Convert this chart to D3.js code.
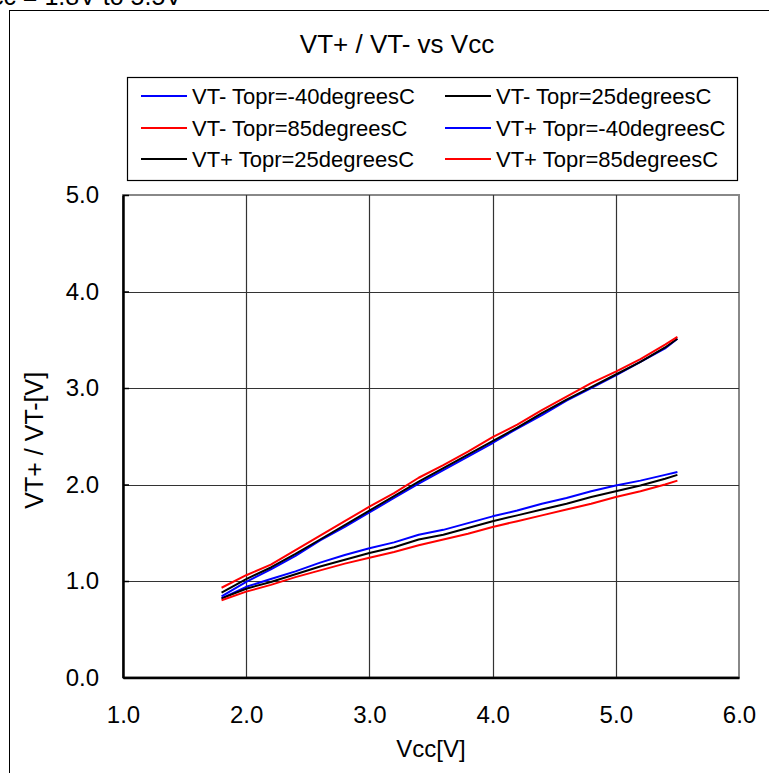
<!DOCTYPE html>
<html>
<head>
<meta charset="utf-8">
<script src="https://cdn.jsdelivr.net/npm/d3@7"></script>
<style>
  html, body { margin: 0; padding: 0; background: #fff; }
  svg { display: block; }
  text { font-family: "Liberation Sans", Arial, sans-serif; fill: #000; }
</style>
</head>
<body>
<svg id="chart" width="769" height="773"></svg>
<script>
// Supply voltage sweep [V]
const vcc = [1.8, 2.0, 2.2, 2.4, 2.6, 2.8, 3.0, 3.2, 3.4, 3.6, 3.8, 4.0, 4.2, 4.4, 4.6, 4.8, 5.0, 5.2, 5.4, 5.5];

// Threshold voltages [V]
const vtMinusM40 = [0.82, 0.94, 1.02, 1.10, 1.19, 1.27, 1.34, 1.40, 1.48, 1.53, 1.60, 1.67, 1.73, 1.80, 1.86, 1.93, 1.99, 2.04, 2.10, 2.13];
const vtMinus25  = [0.82, 0.92, 0.99, 1.07, 1.15, 1.22, 1.29, 1.35, 1.43, 1.48, 1.55, 1.62, 1.68, 1.74, 1.80, 1.87, 1.93, 1.99, 2.06, 2.10];
const vtMinus85  = [0.80, 0.89, 0.96, 1.04, 1.11, 1.18, 1.24, 1.30, 1.37, 1.43, 1.49, 1.56, 1.62, 1.68, 1.74, 1.80, 1.87, 1.93, 2.00, 2.04];
const vtPlusM40  = [0.84, 0.99, 1.12, 1.26, 1.42, 1.56, 1.71, 1.86, 2.01, 2.15, 2.29, 2.43, 2.58, 2.72, 2.87, 3.00, 3.13, 3.27, 3.41, 3.51];
const vtPlus25   = [0.88, 1.02, 1.14, 1.28, 1.43, 1.58, 1.73, 1.88, 2.03, 2.17, 2.31, 2.45, 2.59, 2.74, 2.88, 3.01, 3.14, 3.27, 3.42, 3.51];
const vtPlus85   = [0.93, 1.06, 1.17, 1.32, 1.47, 1.62, 1.77, 1.91, 2.07, 2.20, 2.34, 2.49, 2.62, 2.77, 2.91, 3.05, 3.17, 3.30, 3.45, 3.53];

const seriesNames  = ["VT- Topr=-40degreesC", "VT- Topr=25degreesC", "VT- Topr=85degreesC",
                      "VT+ Topr=-40degreesC", "VT+ Topr=25degreesC", "VT+ Topr=85degreesC"];
const seriesValues = [vtMinusM40, vtMinus25, vtMinus85, vtPlusM40, vtPlus25, vtPlus85];
const seriesColors = ["#0000ff", "#000000", "#ff0000", "#0000ff", "#000000", "#ff0000"];

const xTicks = [1, 2, 3, 4, 5, 6];
const yTicks = [0, 1, 2, 3, 4, 5];

const svg = d3.select("#chart");

// outer frame of the figure
svg.append("rect")
  .attr("x", 9.5).attr("y", 10.5)
  .attr("width", 820).attr("height", 820)
  .attr("fill", "none").attr("stroke", "#000").attr("stroke-width", 1);

// condition line at the very top (runs off the upper edge)
svg.append("text")
  .attr("x", 182).attr("y", 5)
  .attr("text-anchor", "end")
  .style("font-size", "25px")
  .text("Vcc = 1.8V to 5.5V");

const plot = { left: 123, right: 739, top: 195, bottom: 677.5 };

const x = d3.scaleLinear().domain([1, 6]).range([plot.left, plot.right]);
const y = d3.scaleLinear().domain([0, 5]).range([plot.bottom, plot.top]);

// title
svg.append("text")
  .attr("x", 397).attr("y", 53)
  .attr("text-anchor", "middle")
  .style("font-size", "26px")
  .text("VT+ / VT- vs Vcc");

// plot border (top / right)
svg.append("rect")
  .attr("x", plot.left).attr("y", plot.top)
  .attr("width", plot.right - plot.left).attr("height", plot.bottom - plot.top)
  .attr("fill", "none").attr("stroke", "#888").attr("stroke-width", 2);

// grid
const grid = svg.append("g");
grid.selectAll("line.vx")
  .data(xTicks.filter(d => d > 1 && d < 6))
  .join("line")
  .attr("x1", d => Math.round(x(d)) + 0.5).attr("x2", d => Math.round(x(d)) + 0.5)
  .attr("y1", plot.top).attr("y2", plot.bottom)
  .attr("stroke", "#333").attr("stroke-width", 1.2);
grid.selectAll("line.hy")
  .data(yTicks.filter(d => d > 0 && d < 5))
  .join("line")
  .attr("y1", d => Math.round(y(d)) + 0.5).attr("y2", d => Math.round(y(d)) + 0.5)
  .attr("x1", plot.left).attr("x2", plot.right)
  .attr("stroke", "#333").attr("stroke-width", 1.2);

// axes
const xAxis = d3.axisBottom(x).tickValues(xTicks).tickSize(0).tickPadding(28)
  .tickFormat(d3.format(".1f"));
const gx = svg.append("g").attr("transform", `translate(0,${plot.bottom})`).call(xAxis);
gx.select(".domain").attr("stroke", "#000").attr("stroke-width", 2.5);
gx.selectAll("text").style("font-size", "24px").style("font-family", "Liberation Sans, Arial, sans-serif");

const yAxis = d3.axisLeft(y).tickValues(yTicks).tickSizeInner(-6).tickSizeOuter(0).tickPadding(24)
  .tickFormat(d3.format(".1f"));
const gy = svg.append("g").attr("transform", `translate(${plot.left},0)`).call(yAxis);
gy.select(".domain").attr("stroke", "#000").attr("stroke-width", 2.5);
gy.selectAll("line").attr("stroke", "#000").attr("stroke-width", 1.5);
gy.selectAll("text").style("font-size", "24px").style("font-family", "Liberation Sans, Arial, sans-serif");

// axis titles
svg.append("text")
  .attr("x", (plot.left + plot.right) / 2).attr("y", 757)
  .attr("text-anchor", "middle")
  .style("font-size", "24px")
  .text("Vcc[V]");
svg.append("text")
  .attr("transform", `translate(43,${(plot.top + plot.bottom) / 2 + 4}) rotate(-90)`)
  .attr("text-anchor", "middle")
  .style("font-size", "25px")
  .text("VT+ / VT-[V]");

// series lines
const line = d3.line().x((d, i) => x(vcc[i])).y(d => y(d));
svg.append("g").selectAll("path")
  .data(seriesValues)
  .join("path")
  .attr("d", d => line(d))
  .attr("fill", "none")
  .attr("stroke", (d, i) => seriesColors[i])
  .attr("stroke-width", 2)
  .attr("stroke-linejoin", "round");

// legend
const legend = svg.append("g");
legend.append("rect")
  .attr("x", 127.5).attr("y", 77.5).attr("width", 610).attr("height", 103)
  .attr("fill", "#fff").attr("stroke", "#000").attr("stroke-width", 1.2);
const colX = [141, 445];
const rowY = [96, 128, 159];
const items = legend.selectAll("g.item")
  .data(seriesNames)
  .join("g")
  .attr("transform", (d, i) => `translate(${colX[i % 2]},${rowY[Math.floor(i / 2)]})`);
items.append("line")
  .attr("x1", 0).attr("x2", 46).attr("y1", 0).attr("y2", 0)
  .attr("stroke", (d, i) => seriesColors[i]).attr("stroke-width", 2);
items.append("text")
  .attr("x", 51).attr("y", 8)
  .style("font-size", "22px")
  .text(d => d);
</script>
</body>
</html>
